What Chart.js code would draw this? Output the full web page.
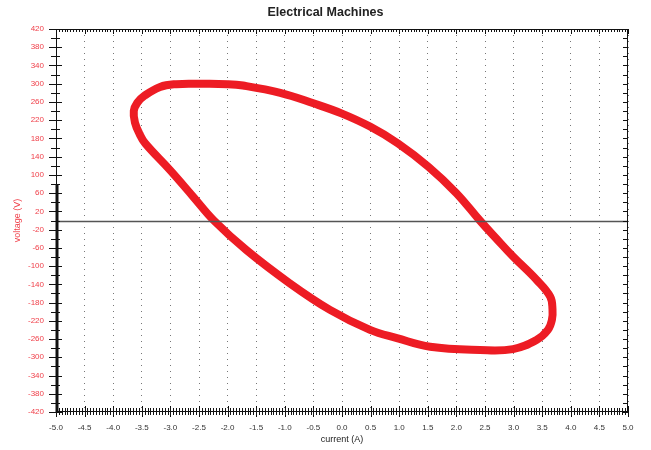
<!DOCTYPE html>
<html>
<head>
<meta charset="utf-8">
<script src="https://cdn.jsdelivr.net/npm/chart.js@4.4.1/dist/chart.umd.min.js"></script>
<style>
html, body { margin: 0; padding: 0; background: #fff; }
</style>
</head>
<body>
<canvas id="loopChart" width="651" height="450"></canvas>
<script>
// loop traced clockwise, starting on the flat top so the join is hidden
const currentA = [-2.5, -2.0, -1.73, -1.08, -0.50, -0.01, 0.49, 0.98, 1.51, 2.00, 2.41, 2.70, 2.99, 3.40, 3.64, 3.68, 3.67, 3.60, 3.40, 2.99, 2.41, 1.54, 0.96, 0.49, -0.21, -0.91, -1.67, -2.24, -2.60, -3.01, -3.44, -3.54, -3.62, -3.64, -3.58, -3.45, -3.18, -2.9, -2.5];
const voltageV = [300, 299, 296, 280, 257, 235, 206, 169, 118, 60, 0, -40, -79, -130, -167, -195, -218, -240, -262, -282, -284, -277, -258, -240, -196, -138, -65, 0, 52, 111, 169, 190, 215, 240, 258, 274, 293, 299, 300];

const xTicks = [-5.0, -4.5, -4.0, -3.5, -3.0, -2.5, -2.0, -1.5, -1.0, -0.5, 0.0, 0.5, 1.0, 1.5, 2.0, 2.5, 3.0, 3.5, 4.0, 4.5, 5.0];
const yTicks = [-420, -380, -340, -300, -260, -220, -180, -140, -100, -60, -20, 20, 60, 100, 140, 180, 220, 260, 300, 340, 380, 420];

const points = currentA.map((c, i) => ({ x: c, y: voltageV[i] }));

const red = '#ed1c24';
const labelRed = '#f0404a';

function line(ctx, x1, y1, x2, y2) {
    ctx.beginPath();
    ctx.moveTo(x1, y1);
    ctx.lineTo(x2, y2);
    ctx.stroke();
}

// frame, zero line and the dense tick marks
const frame = {
    id: 'frame',
    afterDatasetsDraw(chart) {
        const { ctx, chartArea: a, scales: { x, y } } = chart;
        ctx.save();
        ctx.strokeStyle = '#555';
        ctx.lineWidth = 1.5;
        const y0 = Math.round(y.getPixelForValue(0)) + 0.5;
        line(ctx, a.left, y0, a.right, y0);

        ctx.strokeStyle = '#111';
        ctx.lineWidth = 1;
        ctx.strokeRect(a.left + 0.5, a.top + 0.5, a.right - a.left - 1, a.bottom - a.top - 1);

        // left + right axis ticks
        for (let v = -420; v <= 420; v += 20) {
            const py = Math.round(y.getPixelForValue(v)) + 0.5;
            const major = (v - 20) % 40 === 0;
            line(ctx, a.left - (major ? 7 : 5), py, a.left + (major ? 6 : 4), py);
            line(ctx, a.right - 5, py, a.right, py);
        }
        // top + bottom ticks
        for (let i = -100; i <= 100; i++) {
            const px = Math.round(x.getPixelForValue(i * 0.05)) + 0.5;
            const major = i % 10 === 0;
            line(ctx, px, a.bottom - (major ? 6 : 4), px, a.bottom + (major ? 5 : 3));
            line(ctx, px, a.top, px, a.top + (major ? 5 : 3));
        }
        // thick piece on the left axis
        ctx.lineWidth = 3;
        line(ctx, a.left + 1, y.getPixelForValue(80), a.left + 1, a.bottom);
        ctx.restore();
    }
};

const ctx = document.getElementById('loopChart').getContext('2d');

const loopChart = new Chart(ctx, {
    type: 'scatter',
    data: {
        datasets: [{
            label: 'voltage',
            data: points,
            showLine: true,
            tension: 0.4,
            borderColor: red,
            borderWidth: 8,
            borderJoinStyle: 'round',
            borderCapStyle: 'round',
            pointRadius: 0,
            fill: false
        }]
    },
    options: {
        responsive: false,
        animation: false,
        layout: { padding: { top: 0, right: 0, bottom: 0, left: 0 } },
        scales: {
            x: {
                type: 'linear',
                min: -5,
                max: 5,
                afterBuildTicks: (scale) => { scale.ticks = xTicks.map(v => ({ value: v })); },
                afterFit: (scale) => { scale.height = 38; },
                ticks: {
                    color: '#333',
                    padding: 11,
                    maxRotation: 0,
                    autoSkip: false,
                    font: { family: 'Liberation Sans', size: 8 },
                    callback: (v) => Number(v).toFixed(1)
                },
                grid: {
                    color: '#777',
                    lineWidth: 1,
                    drawTicks: false
                },
                border: { display: false, dash: [1, 5] },
                title: {
                    display: true,
                    text: 'current (A)',
                    color: '#222',
                    font: { family: 'Liberation Sans', size: 9 },
                    padding: { top: 0, bottom: 4.6 }
                }
            },
            y: {
                type: 'linear',
                min: -420,
                max: 420,
                afterBuildTicks: (scale) => { scale.ticks = yTicks.map(v => ({ value: v })); },
                afterFit: (scale) => { scale.width = 56; },
                ticks: {
                    color: labelRed,
                    padding: 12,
                    autoSkip: false,
                    font: { family: 'Liberation Sans', size: 8 }
                },
                grid: { display: false, drawTicks: false },
                border: { display: false },
                title: {
                    display: true,
                    text: 'voltage (V)',
                    color: labelRed,
                    font: { family: 'Liberation Sans', size: 9 },
                    padding: { top: 12, bottom: 0 }
                }
            },
            yRight: {
                type: 'linear',
                position: 'right',
                afterFit: (scale) => { scale.width = 23; },
                ticks: { display: false },
                grid: { display: false, drawTicks: false },
                border: { display: false }
            }
        },
        plugins: {
            legend: { display: false },
            tooltip: { enabled: false },
            title: {
                display: true,
                text: 'Electrical Machines',
                color: '#222',
                font: { family: 'Liberation Sans', size: 12.5, weight: 'bold' },
                padding: { top: 5, bottom: 9 }
            }
        }
    },
    plugins: [frame]
});
</script>
</body>
</html>
